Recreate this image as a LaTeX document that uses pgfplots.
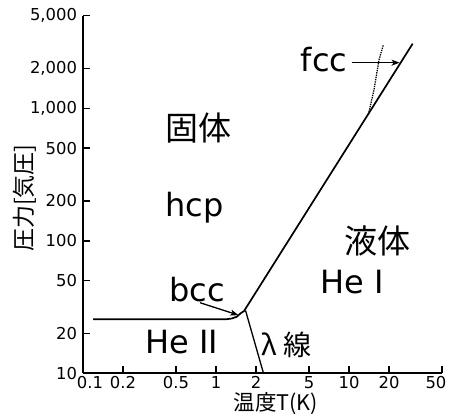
\documentclass[border=0pt]{standalone}
\usepackage{fontspec}
\usepackage{pgfplots}
\pgfplotsset{compat=1.18}
\usetikzlibrary{arrows.meta}
\setmainfont{DejaVu Sans}
\newfontfamily\cjk{Noto Sans CJK JP}

\begin{document}
\begin{tikzpicture}
\begin{axis}[
  scale only axis, width=359pt, height=357.6pt,
  xmode=log, ymode=log,
  xmin=0.1, xmax=50, ymin=10, ymax=5000,
  axis x line=bottom, axis y line=left,
  axis line style={-, line width=1.8pt},
  tick align=inside,
  major tick length=7pt,
  every tick/.style={black, line width=1.5pt},
  xtick={0.1,0.2,0.5,1,2,5,10,20,50},
  xticklabels={{\hspace{14pt}0.1},0.2,0.5,1,2,5,10,20,{50\kern12pt}},
  ytick={10,20,50,100,200,500,1000,2000,5000},
  yticklabels={10,20,50,100,200,500,{1,000},{2,000},{5,000}},
  minor xtick={}, minor ytick={},
  /pgf/number format/assume math mode=true,
  ticklabel style={font=\fontsize{16.4}{18}\selectfont},
  xticklabel style={yshift=-1pt, inner ysep=2pt, anchor=north},
  yticklabel style={xshift=-2.5pt},
  xlabel={\cjk 温度T(K)},
  ylabel={\cjk 圧力[気圧]},
  xlabel style={at={(axis description cs:0.5376,0)}, anchor=center, yshift=-30pt, inner ysep=0pt, font=\fontsize{21.5}{23}\selectfont},
  ylabel style={at={(axis description cs:-0.1616,0.49)}, anchor=center, font=\fontsize{23}{25}\selectfont},
  clip=false,
]
% melting curve
\addplot[black, line width=1.7pt] coordinates {(0.119,25.6) (1.20,25.6) (1.312,25.9) (1.431,26.7) (1.534,28.4) (1.624,29.5) (30.1,3076)};
% lambda line
\addplot[black, line width=1.3pt] coordinates {(1.667,29.8) (2.275,10)};
% hcp-fcc boundary
\addplot[black, line width=1.3pt, densely dotted] coordinates {(14.0,905) (15.4,1374) (16.8,2317) (18.1,3006)};

\draw[-{Stealth[length=8pt,width=6pt,inset=2pt]}, line width=1.3pt] (axis cs:0.758,34.1) -- (axis cs:1.472,27.5);
\draw[-{Stealth[length=8pt,width=6pt,inset=2pt]}, line width=1.3pt] (axis cs:10.48,2210) -- (axis cs:24.0,2210);

\node[anchor=base, font=\cjk\fontsize{33}{36}\selectfont] at (axis description cs:0.3231,0.6504) {固体};
\node[anchor=base, font=\fontsize{32}{36}\selectfont] at (axis description cs:0.3106,0.4371) {hcp};
\node[anchor=base, font=\cjk\fontsize{33}{36}\selectfont] at (axis description cs:0.8203,0.3364) {液体};
\node[anchor=base, font=\fontsize{32}{36}\selectfont] at (axis description cs:0.7507,0.2237) {He I};
\node[anchor=base, font=\fontsize{32}{36}\selectfont] at (axis description cs:0.2749,0.0559) {He II};
\node[anchor=base, font=\fontsize{32}{36}\selectfont] at (axis description cs:0.3175,0.2002) {bcc};
\node[anchor=base, font=\fontsize{32}{36}\selectfont] at (axis description cs:0.6713,0.8434) {fcc};
\node[anchor=base, font=\cjk\fontsize{28}{30}\selectfont] at (axis description cs:0.5674,0.0484) {λ 線};
\end{axis}
\pgfresetboundingbox
\path[use as bounding box] (current axis.south west) ++(-83pt,-40.7pt) rectangle ++(449pt,414pt);
\end{tikzpicture}
\end{document}
